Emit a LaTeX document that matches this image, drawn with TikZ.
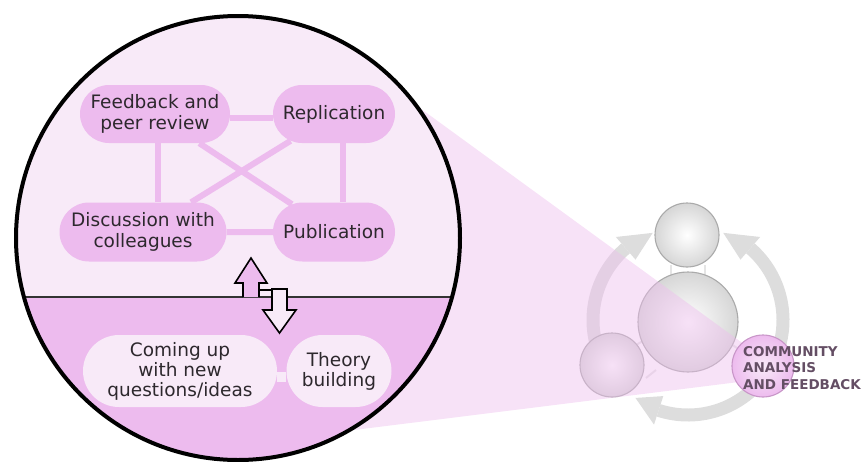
\documentclass[tikz,border=0pt]{standalone}
\usepackage{fontspec}
\setmainfont{DejaVu Sans}
\usetikzlibrary{shapes.misc}
\definecolor{lightpk}{RGB}{248,234,248}
\definecolor{darkpk}{RGB}{237,187,238}
\definecolor{wedgepk}{RGB}{238,190,238}
\definecolor{ringgray}{RGB}{221,221,221}
\definecolor{circgray}{RGB}{214,214,214}
\definecolor{circline}{RGB}{170,170,170}
\definecolor{commline}{RGB}{200,150,200}
\definecolor{commtext}{RGB}{100,78,100}
\definecolor{labeltext}{RGB}{45,40,45}
\begin{document}
\begin{tikzpicture}[x=1pt,y=-1pt,
  pill/.style={rounded rectangle, fill=darkpk, inner sep=0pt, align=center,
    text=labeltext, font=\fontsize{18.5}{21}\selectfont},
  lowpill/.style={pill, fill=lightpk, font=\fontsize{18.5}{20}\selectfont},
  link/.style={darkpk, line width=6pt},
  lowlink/.style={lightpk, line width=10pt},
  blockarrow/.style={draw=black, line width=1.6pt, line join=miter},
  ring/.style={ringgray, line width=13pt},
  ringhead/.style={fill=ringgray},
  smallarr/.style={draw=black!10, line width=2pt},
  graycirc/.style={inner color=white, outer color=circgray, draw=circline, line width=1.1pt},
]
\useasboundingbox (0,0) rectangle (865,461);

% ---------- right-hand gray cycle ----------
\coordinate (rc) at (688,320);
\draw[ring] ([shift={(rc)}]205:95pt) arc[start angle=205, end angle=131, radius=95pt];
\fill[ringhead] ([shift={(rc)}]131:110pt) -- ([shift={(rc)}]131:80pt) -- ([shift={(rc)}]112:94pt) -- cycle;
\draw[ring] ([shift={(rc)}]-25:95pt) arc[start angle=-25, end angle=49, radius=95pt];
\fill[ringhead] ([shift={(rc)}]49:110pt) -- ([shift={(rc)}]49:80pt) -- ([shift={(rc)}]68:94pt) -- cycle;
\draw[ring] ([shift={(rc)}]318:95pt) arc[start angle=318, end angle=252, radius=95pt];
\fill[ringhead] ([shift={(rc)}]252:110pt) -- ([shift={(rc)}]252:80pt) -- ([shift={(rc)}]236:94pt) -- cycle;

% faint double arrows between circles
\draw[smallarr] (671,265) -- (671,280);
\draw[smallarr] (705,265) -- (705,280);
\draw[smallarr] (636,345) -- (648,338);
\draw[smallarr] (646,378) -- (656,370);
\draw[smallarr] (728,342) -- (740,350);

\shade[graycirc] (687,235) circle[radius=32pt];
\shade[graycirc] (688,322) circle[radius=50pt];
\shade[graycirc] (612,365) circle[radius=32pt];

% ---------- projection wedge ----------
\fill[wedgepk, opacity=0.45] (238,238) -- (380,79) -- (763,358) -- (763,379) -- (330,433) -- cycle;

% community circle and label
\shade[inner color=lightpk, outer color=darkpk, draw=commline, line width=1.1pt] (763,366) circle[radius=31pt];
\node[anchor=north west, inner sep=0pt, align=left, text=commtext,
  font=\fontsize{13.5}{16.5}\selectfont\bfseries] (comm) at (743,346)
  {COMMUNITY\\ANALYSIS\\AND FEEDBACK};

% ---------- big magnified circle ----------
\begin{scope}
  \clip (238,238) circle[radius=222pt];
  \fill[lightpk] (0,0) rectangle (470,297);
  \fill[darkpk] (0,297) rectangle (470,470);
  \draw[black!80, line width=2pt] (10,297) -- (470,297);
\end{scope}

% upper nodes
\node[pill, minimum width=150pt, minimum height=58pt] (fb) at (155,114) {Feedback and\\peer review};
\node[pill, minimum width=122pt, minimum height=58pt] (rep) at (334,114) {Replication};
\node[pill, minimum width=167pt, minimum height=59pt] (disc) at (143,232) {Discussion with\\colleagues};
\node[pill, minimum width=122pt, minimum height=59pt] (pub) at (334,232) {Publication};

\draw[link] ([yshift=-4pt]fb.east) -- ([yshift=-4pt]rep.west);
\draw[link] (disc) -- (pub);
\draw[link] ([xshift=3pt]fb.south) -- ([xshift=15pt]disc.north);
\draw[link] ([xshift=9pt]rep.south) -- ([xshift=9pt]pub.north);
\draw[link] (fb) -- (pub);
\draw[link] (rep) -- (disc);

% lower nodes
\node[lowpill, minimum width=194pt, minimum height=72pt] (com) at (180,371) {Coming up\\with new\\questions/ideas};
\node[lowpill, minimum width=105pt, minimum height=72pt] (theo) at (339,371) {Theory\\building};
\draw[lowlink] ([yshift=-6pt]com.east) -- ([yshift=-6pt]theo.west);

% double block arrow
\filldraw[blockarrow, fill=darkpk] (243,297) -- (243,283) -- (235,283) -- (251,258) -- (267,283) -- (259,283) -- (259,297);
\filldraw[blockarrow, fill=lightpk] (272,289) -- (272,310) -- (263,310) -- (279.5,333) -- (296,310) -- (287,310) -- (287,289) -- cycle;
\draw[black, line width=1.6pt] (259,290) -- (272,290);

% outline of big circle
\draw[black, line width=4pt] (238,238) circle[radius=222pt];
\end{tikzpicture}
\end{document}
